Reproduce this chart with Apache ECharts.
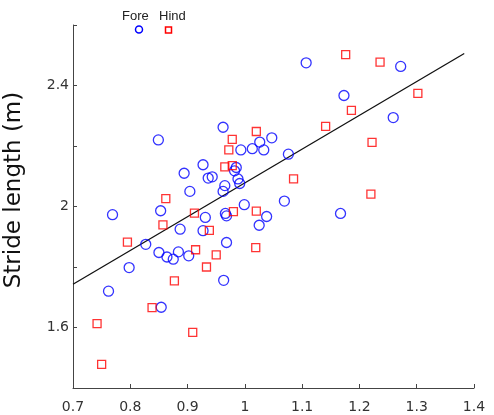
<!DOCTYPE html>
<html>
<head>
<meta charset="utf-8">
<script src="https://cdn.jsdelivr.net/npm/echarts@6/dist/echarts.min.js"></script>
<style>html,body{margin:0;padding:0;background:#fff;}#c{width:494px;height:415px;}</style>
</head>
<body>
<div id="c"></div>
<script>
var foreX = [0.762,0.769,0.798,0.827,0.849,0.850,0.853,0.854,0.864,0.875,0.884,0.887,0.894,0.902,0.904,0.927,0.927,0.931,0.936,0.943,0.962,0.962,0.965,0.963,0.966,0.968,0.968,0.982,0.985,0.988,0.991,0.993,0.999,1.013,1.025,1.026,1.033,1.038,1.047,1.069,1.076,1.107,1.167,1.173,1.259,1.272];
var foreY = [1.720,1.973,1.798,1.875,2.220,1.848,1.986,1.667,1.833,1.826,1.850,1.925,2.110,1.837,2.050,2.138,1.920,1.964,2.094,2.098,2.262,2.050,2.069,1.756,1.977,1.969,1.881,2.118,2.129,2.091,2.076,2.187,2.006,2.191,1.938,2.213,2.187,1.967,2.227,2.018,2.173,2.475,1.977,2.367,2.294,2.463];
var hindX = [0.742,0.750,0.795,0.838,0.857,0.862,0.877,0.909,0.912,0.914,0.933,0.938,0.950,0.965,0.972,0.978,0.978,0.980,1.019,1.020,1.020,1.085,1.141,1.176,1.186,1.220,1.222,1.236,1.302];
var hindY = [1.613,1.478,1.882,1.666,1.939,2.026,1.754,1.584,1.978,1.857,1.800,1.921,1.840,2.131,2.187,2.222,2.135,1.983,1.864,1.985,2.248,2.091,2.265,2.502,2.318,2.041,2.212,2.477,2.374];
var fitX = [0.7, 1.383];
var fitY = [1.743, 2.506];
var xTicks = [0.7,0.8,0.9,1,1.1,1.2,1.3,1.4];
var yLabels = [1.6, 2, 2.4];
var legendNames = ['Fore','Hind'];
var yTitle = 'Stride length (m)';

function pairs(xs, ys){ return xs.map(function(x,i){ return [x, ys[i]]; }); }

var chart = echarts.init(document.getElementById('c'), null, {renderer:'canvas'});
chart.setOption({
  animation: false,
  backgroundColor: '#fff',
  grid: {left: 73, right: 20, top: 25, bottom: 27, containLabel: false},
  xAxis: {
    type: 'value', min: 0.7, max: 1.4, interval: 0.1,
    axisLine: {show: true, onZero: false, lineStyle: {color: '#444', width: 1}},
    axisTick: {show: true, inside: true, length: 4, lineStyle: {color: '#444'}},
    splitLine: {show: false},
    axisLabel: {
      color: '#333', fontFamily: 'DejaVu Sans', fontSize: 14, margin: 12,
      formatter: function(v){ var r = Math.round(v*10)/10; return xTicks.indexOf(r) >= 0 ? String(r) : ''; }
    }
  },
  yAxis: {
    type: 'value', min: 1.4, max: 2.6, interval: 0.2,
    axisLine: {show: true, onZero: false, lineStyle: {color: '#444', width: 1}},
    axisTick: {show: true, inside: true, length: 4, lineStyle: {color: '#444'}},
    splitLine: {show: false},
    axisLabel: {
      color: '#333', fontFamily: 'DejaVu Sans', fontSize: 14, margin: 4,
      showMinLabel: true, showMaxLabel: true,
      formatter: function(v){ var r = Math.round(v*10)/10; return yLabels.indexOf(r) >= 0 ? String(r) : ''; }
    }
  },
  series: [
    {
      name: legendNames[0], type: 'scatter', data: pairs(foreX, foreY),
      symbol: 'circle', symbolSize: 10,
      itemStyle: {color: 'rgba(0,0,0,0)', borderColor: '#0000ff', borderWidth: 1.3},
      z: 3
    },
    {
      name: legendNames[1], type: 'scatter', data: pairs(hindX, hindY),
      symbol: 'rect', symbolSize: 8,
      itemStyle: {color: 'rgba(0,0,0,0)', borderColor: '#ff0000', borderWidth: 1.3},
      z: 4
    },
    {
      name: 'fit', type: 'line', data: pairs(fitX, fitY),
      showSymbol: false, symbol: 'none',
      lineStyle: {color: '#111', width: 1.3},
      z: 2
    }
  ],
  graphic: [
    {type: 'text', left: 122, top: 10, style: {text: legendNames[0], fontFamily: 'Liberation Sans', fontSize: 13, fill: '#222'}},
    {type: 'text', left: 159, top: 10, style: {text: legendNames[1], fontFamily: 'Liberation Sans', fontSize: 13, fill: '#222'}},
    {type: 'circle', shape: {cx: 139, cy: 29.5, r: 3.5}, style: {fill: 'none', stroke: '#0000ff', lineWidth: 1.5}},
    {type: 'rect', shape: {x: 165.5, y: 27, width: 6, height: 6}, style: {fill: 'none', stroke: '#ff0000', lineWidth: 1.5}},
    {type: 'text', x: 3, y: 190, rotation: Math.PI/2,
     style: {text: yTitle, fontFamily: 'DejaVu Sans', fontSize: 23, fill: '#111', align: 'center', verticalAlign: 'top'}}
  ]
});
</script>
</body>
</html>
